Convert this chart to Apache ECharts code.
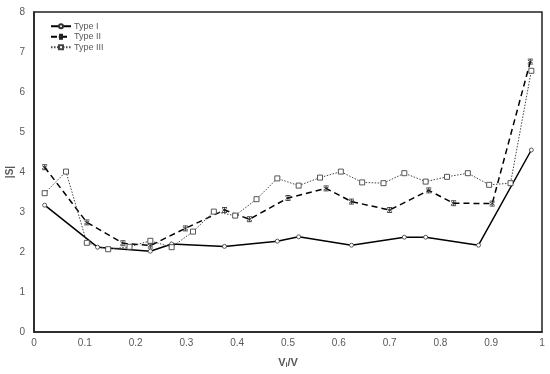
<!DOCTYPE html>
<html>
<head>
<meta charset="utf-8">
<script src="https://cdn.jsdelivr.net/npm/echarts@6/dist/echarts.min.js"></script>
<style>html,body{margin:0;padding:0;background:#fff}#c{width:550px;height:374px}</style>
</head>
<body>
<div id="c"></div>
<script>
var xTicks = [0, 0.1, 0.2, 0.3, 0.4, 0.5, 0.6, 0.7, 0.8, 0.9, 1];
var yTicks = [0, 1, 2, 3, 4, 5, 6, 7, 8];

var typeIx = [0.021, 0.125, 0.229, 0.271, 0.375, 0.479, 0.521, 0.625, 0.729, 0.771, 0.875, 0.979];
var typeIy = [3.17, 2.12, 2.02, 2.2, 2.14, 2.27, 2.38, 2.17, 2.37, 2.37, 2.17, 4.55];

var typeIIx = [0.021, 0.104, 0.175, 0.229, 0.298, 0.375, 0.424, 0.5, 0.575, 0.625, 0.70, 0.777, 0.826, 0.902, 0.977];
var typeIIy = [4.12, 2.74, 2.22, 2.16, 2.59, 3.05, 2.82, 3.35, 3.59, 3.26, 3.05, 3.54, 3.22, 3.21, 6.76];

var typeIIIx = [0.021, 0.063, 0.104, 0.146, 0.188, 0.229, 0.271, 0.313, 0.354, 0.396, 0.438, 0.479, 0.521, 0.563, 0.604, 0.646, 0.688, 0.729, 0.771, 0.813, 0.854, 0.896, 0.938, 0.979];
var typeIIIy = [3.47, 4.01, 2.23, 2.07, 2.13, 2.28, 2.12, 2.51, 3.01, 2.91, 3.32, 3.84, 3.66, 3.86, 4.01, 3.74, 3.72, 3.97, 3.76, 3.88, 3.97, 3.68, 3.72, 6.53];

function pairs(xs, ys) { return xs.map(function (x, i) { return [x, ys[i]]; }); }

var chart = echarts.init(document.getElementById('c'));
var labelColor = '#595959';
chart.setOption({
  animation: false,
  backgroundColor: '#fff',
  grid: { left: 34, right: 8, top: 12, bottom: 42, show: true, borderColor: '#222', borderWidth: 1.5, containLabel: false, outerBoundsMode: 'none' },
  legend: {
    orient: 'vertical', left: 45, top: 16, itemWidth: 20, itemHeight: 5, itemGap: 0,
    textStyle: { fontSize: 9, lineHeight: 10.5, color: labelColor, fontFamily: 'Liberation Sans', padding: [0, 0, 0, -2] },
    data: ['Type I', 'Type II', 'Type III']
  },
  xAxis: {
    type: 'value', min: 0, max: 1, interval: 0.1,
    name: 'V{sub|i}/V', nameLocation: 'middle', nameGap: 24, nameMoveOverlap: false,
    nameTextStyle: {
      fontSize: 11, fontWeight: 'bold', color: labelColor, fontFamily: 'Liberation Sans',
      rich: { sub: { fontSize: 7, fontWeight: 'bold', color: labelColor, verticalAlign: 'bottom', padding: [6, 0, 0, 0] } }
    },
    axisLine: { lineStyle: { color: '#222', width: 1.5 } },
    axisTick: { show: false },
    splitLine: { show: false },
    axisLabel: {
      fontSize: 10, color: labelColor, margin: 6, fontFamily: 'Liberation Sans',
      formatter: function (v) { var s = xTicks.filter(function (t) { return Math.abs(t - v) < 1e-6; }); return s.length ? String(s[0]) : ''; }
    }
  },
  yAxis: {
    type: 'value', min: 0, max: 8, interval: 1,
    name: '|S|', nameLocation: 'middle', nameGap: 19, nameRotate: 90, nameMoveOverlap: false,
    nameTextStyle: { fontSize: 10, fontWeight: 'bold', color: labelColor, fontFamily: 'Liberation Sans' },
    axisLine: { lineStyle: { color: '#222', width: 1.5 } },
    axisTick: { show: false },
    splitLine: { show: false },
    axisLabel: {
      fontSize: 10, color: labelColor, margin: 9, fontFamily: 'Liberation Sans',
      formatter: function (v) { return yTicks.indexOf(v) >= 0 ? String(v) : ''; }
    }
  },
  series: [
    {
      name: 'Type I', type: 'line', data: pairs(typeIx, typeIy),
      symbol: 'circle', symbolSize: 4, showAllSymbol: true,
      lineStyle: { color: '#000', width: 1.5, type: 'solid' },
      itemStyle: { color: '#fff', borderColor: '#333', borderWidth: 0.8 }
    },
    {
      name: 'Type II', type: 'line', data: pairs(typeIIx, typeIIy),
      symbol: 'path://M0,0 L10,0 M5,0 L5,10 M0,10 L10,10 M0,2 L10,8 M10,2 L0,8', symbolSize: 5, showAllSymbol: true,
      lineStyle: { color: '#000', width: 1.5, type: [6, 4] },
      itemStyle: { color: 'none', borderColor: '#222', borderWidth: 0.8 }
    },
    {
      name: 'Type III', type: 'line', data: pairs(typeIIIx, typeIIIy),
      symbol: 'rect', symbolSize: 5, showAllSymbol: true,
      lineStyle: { color: '#444', width: 1, type: [1.5, 1.5] },
      itemStyle: { color: '#fff', borderColor: '#444', borderWidth: 0.9 }
    }
  ]
});
</script>
</body>
</html>
